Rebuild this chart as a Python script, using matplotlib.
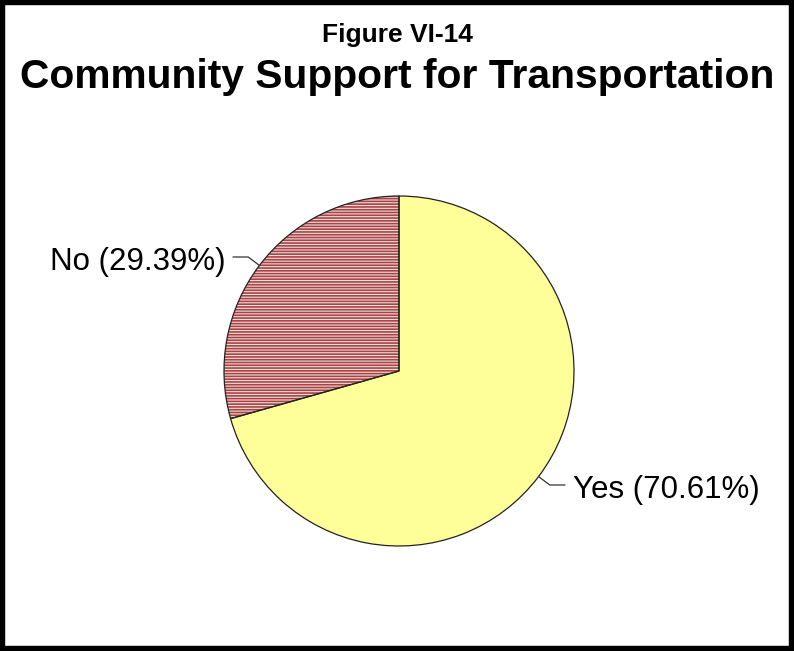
import numpy as np
import matplotlib
matplotlib.use('Agg')
import matplotlib.pyplot as plt
from matplotlib.patches import Rectangle

# data
labels = ['No', 'Yes']
shares = [29.39, 70.61]
colors = ['#f2dcdc', '#ffff99']
hatches = ['------', '']

plt.rcParams['font.family'] = ['Liberation Sans', 'DejaVu Sans']
plt.rcParams['hatch.linewidth'] = 1.2

fig = plt.figure(figsize=(7.94, 6.51), dpi=100)
W, H = 794, 651
cx, cy, r = 399, 371, 175
ax = fig.add_axes([(cx - r) / W, (H - cy - r) / H, 2 * r / W, 2 * r / H])

# hatched fill, then outline on top
wedges, _ = ax.pie(shares, colors=colors, startangle=90, counterclock=True,
                   wedgeprops=dict(edgecolor='#a84444', linewidth=0))
for w, h in zip(wedges, hatches):
    if h:
        w.set_hatch(h)
    else:
        w.set_edgecolor(w.get_facecolor())
ax.pie(shares, startangle=90, counterclock=True,
       wedgeprops=dict(fill=False, edgecolor='#222222', linewidth=0.9))
ax.set_xlim(-1, 1)
ax.set_ylim(-1, 1)
ax.axis('off')

# labels with leader lines
for lab, val, w in zip(labels, shares, wedges):
    mid = np.deg2rad((w.theta1 + w.theta2) / 2)
    ex, ey = np.cos(mid), np.sin(mid)
    kx, ky = ex * 1.08, ey * 1.08
    side = np.sign(ex)
    hx = kx + side * 0.086
    ax.plot([ex, kx, hx], [ey, ky, ky], color='#333333', lw=0.9, clip_on=False)
    ax.text(hx + side * 0.045, ky - 0.075, f'{lab} ({val:.2f}%)', fontsize=22.5,
            ha='left' if side > 0 else 'right', va='baseline', clip_on=False)

fig.text(0.5, 1 - 35 / H, 'Figure VI-14', fontsize=19, fontweight='bold',
         ha='center', va='center')
fig.text(0.5, 1 - 77 / H, 'Community Support for Transportation', fontsize=29.3,
         fontweight='bold', ha='center', va='center')

fig.patches.append(Rectangle((0, 0), 1, 1, transform=fig.transFigure, fill=False,
                             edgecolor='black', linewidth=7.5, clip_on=False))

fig.savefig('out.png', dpi=100)
